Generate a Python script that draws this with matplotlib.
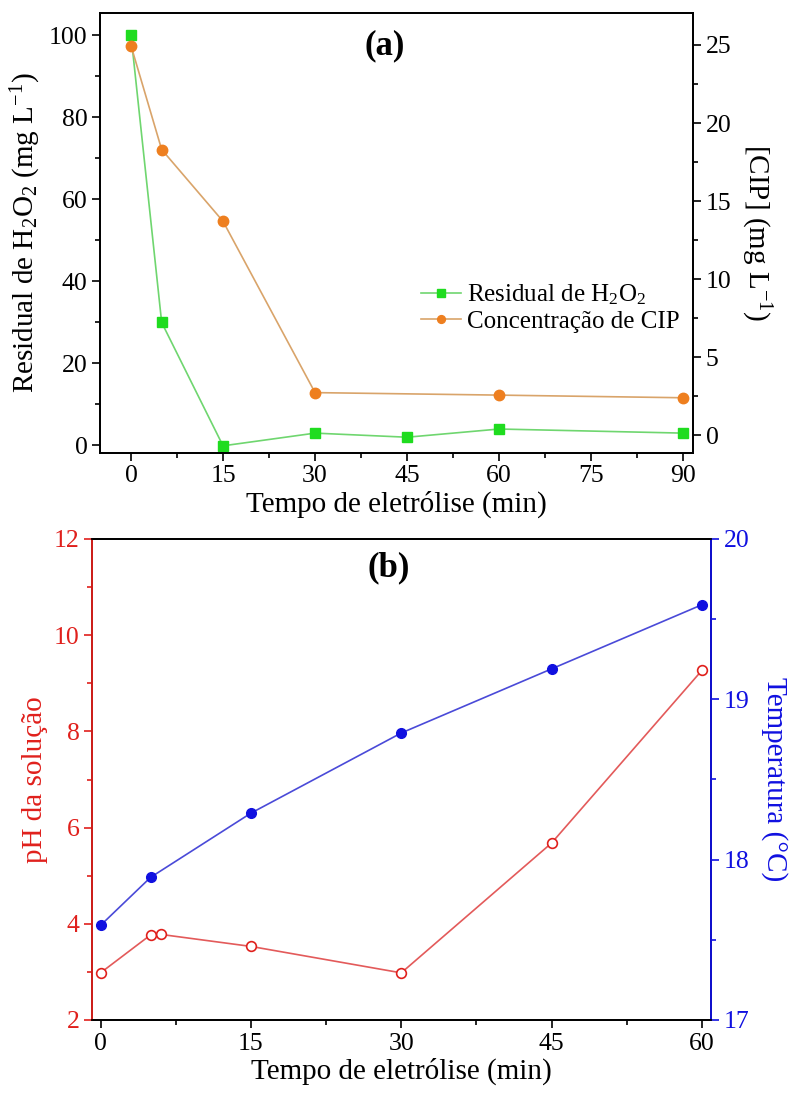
import matplotlib
matplotlib.use('Agg')
import matplotlib.pyplot as plt
from matplotlib.ticker import MultipleLocator

plt.rcParams['font.family'] = ['Liberation Serif', 'DejaVu Serif']
plt.rcParams['mathtext.fontset'] = 'custom'
plt.rcParams['mathtext.rm'] = 'Liberation Serif'
plt.rcParams['mathtext.default'] = 'regular'

# panel (a) data
a_time = [0, 5, 15, 30, 45, 60, 90]
h2o2 = [100, 29.9, -0.2, 2.9, 1.9, 3.9, 2.9]
cip_time = [0, 5, 15, 30, 60, 90]
cip = [24.96, 18.3, 13.7, 2.72, 2.56, 2.39]

# panel (b) data
ph_time = [0, 5, 6, 15, 30, 45, 60]
ph = [2.98, 3.77, 3.78, 3.53, 2.98, 5.68, 9.27]
temp_time = [0, 5, 15, 30, 45, 60]
temp = [17.59, 17.89, 18.29, 18.79, 19.19, 19.59]

W, H = 792, 1093
fig = plt.figure(figsize=(W / 100, H / 100), dpi=100)

TICK = 18.5
LAB = 21

def style_ticks(ax):
    ax.tick_params(which='major', direction='out', length=6, width=1.2,
                   labelsize=TICK, pad=3)
    ax.tick_params(which='minor', direction='out', length=3.5, width=1.2)

# ---------- (a) ----------
ax1 = fig.add_axes([100 / W, 1 - 453 / H, 593 / W, 440 / H])
ax1.plot(a_time, h2o2, color='#6fd66f', lw=1.2, marker='s', ms=7,
         mfc='#1fdc1f', mec='#1fdc1f', label='Residual de H$_2$O$_2$')
ax2 = ax1.twinx()
ax2.plot(cip_time, cip, color='#d9a46a', lw=1.2, marker='o', ms=7.5,
         mfc='#ee7f1f', mec='#ee7f1f', label='Concentração de CIP')

ax1.set_xlim(-5.05, 91.6)
ax1.set_ylim(-1.95, 105.4)
ax2.set_ylim(-1.15, 27.05)
ax1.set_xticks([0, 15, 30, 45, 60, 75, 90])
ax1.xaxis.set_minor_locator(MultipleLocator(7.5))
ax1.set_yticks([0, 20, 40, 60, 80, 100])
ax1.yaxis.set_minor_locator(MultipleLocator(10))
ax2.set_yticks([0, 5, 10, 15, 20, 25])
ax2.yaxis.set_minor_locator(MultipleLocator(2.5))
for a in (ax1, ax2):
    style_ticks(a)
    for s in a.spines.values():
        s.set_linewidth(1.3)
ax1.set_xlabel('Tempo de eletrólise (min)', fontsize=LAB, labelpad=2)
ax1.set_ylabel('Residual de H$_2$O$_2$ (mg L$^{-1}$)', fontsize=LAB, labelpad=4)
ax2.set_ylabel('[CIP] (mg L$^{-1}$)', fontsize=LAB, rotation=270, labelpad=30)
ax1.text(0.48, 0.925, '(a)', transform=ax1.transAxes, fontsize=25,
         fontweight='bold', ha='center', va='center')

h1, l1 = ax1.get_legend_handles_labels()
h2, l2 = ax2.get_legend_handles_labels()
ax2.legend(h1 + h2, l1 + l2, loc='center left', bbox_to_anchor=(0.52, 0.33),
           frameon=False, fontsize=18, handlelength=1.6, handletextpad=0.25,
           labelspacing=0.15, borderpad=0, markerscale=0.75)

# ---------- (b) ----------
red = '#e0201c'
blue = '#1010e0'
bx1 = fig.add_axes([92 / W, 1 - 1020 / H, 619 / W, 481 / H])
bx1.plot(ph_time, ph, color='#e35a5a', lw=1.2, marker='o', ms=7,
         mfc='white', mec=red, mew=1.2)
bx2 = bx1.twinx()
bx2.plot(temp_time, temp, color='#4a4ad8', lw=1.2, marker='o', ms=7,
         mfc=blue, mec=blue)

bx1.set_xlim(-0.85, 60.9)
bx1.set_ylim(2, 12)
bx2.set_ylim(17, 20)
bx1.set_xticks([0, 15, 30, 45, 60])
bx1.xaxis.set_minor_locator(MultipleLocator(7.5))
bx1.set_yticks([2, 4, 6, 8, 10, 12])
bx1.yaxis.set_minor_locator(MultipleLocator(1))
bx2.set_yticks([17, 18, 19, 20])
bx2.yaxis.set_minor_locator(MultipleLocator(0.5))
for a in (bx1, bx2):
    style_ticks(a)
    for s in a.spines.values():
        s.set_linewidth(1.3)
bx2.spines['left'].set_color(red)
bx2.spines['right'].set_color(blue)
bx1.tick_params(axis='y', which='both', colors=red)
bx2.tick_params(axis='y', which='both', colors=blue)
bx1.set_xlabel('Tempo de eletrólise (min)', fontsize=LAB, labelpad=2)
bx1.set_ylabel('pH da solução', fontsize=LAB, color=red, labelpad=4)
bx2.set_ylabel('Temperatura (°C)', fontsize=LAB, color=blue, rotation=270,
               labelpad=28)
bx1.text(0.48, 0.94, '(b)', transform=bx1.transAxes, fontsize=25,
         fontweight='bold', ha='center', va='center')

fig.savefig('out.png', dpi=100)
